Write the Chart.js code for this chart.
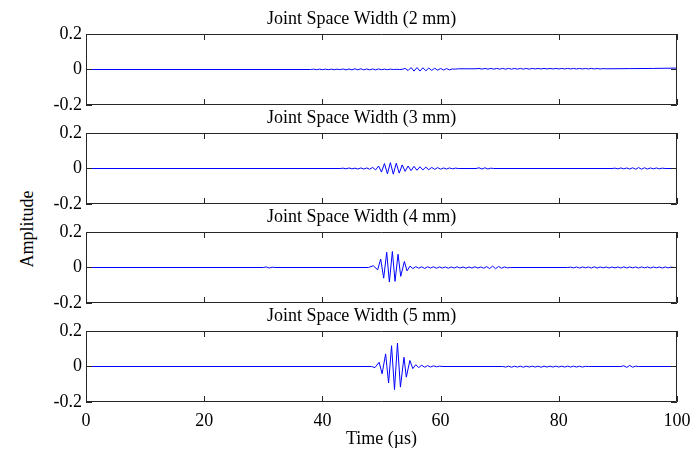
<!DOCTYPE html>
<html>
<head>
<meta charset="utf-8">
<script src="https://cdn.jsdelivr.net/npm/chart.js@4.4.1/dist/chart.umd.min.js"></script>
<style>
  body { margin: 0; background: #fff; }
  #wrap { position: relative; width: 692px; height: 457px; overflow: hidden; }
  #wrap canvas { position: absolute; left: 0; }
  #ylab {
    position: absolute; left: 27px; top: 229px;
    transform: translate(-50%, -50%) rotate(-90deg);
    font: 18px "Liberation Serif", "Times New Roman", serif; color: #000; white-space: nowrap;
  }
</style>
</head>
<body>
<div id="wrap">
  <div id="ylab">Amplitude</div>
</div>
<script>
const FONT = '"Liberation Serif", "Times New Roman", serif';

const xTicks = [0, 20, 40, 60, 80, 100];
const yTicks = [-0.2, 0, 0.2];
const titles = ['Joint Space Width (2 mm)', 'Joint Space Width (3 mm)', 'Joint Space Width (4 mm)', 'Joint Space Width (5 mm)'];

// [time (us), amplitude]
const wave2mm = [
  [0, 0], [38, 0], [38.5, 0.002], [39, -0.001], [39.5, 0.002], [40, -0.001], [40.5, 0.002], [41, -0.001],
  [41.5, 0.002], [42, -0.001], [42.5, 0.002], [43, -0.001], [43.5, 0.003], [44, -0.002], [44.5, 0.003],
  [45, -0.002], [45.5, 0.004], [46, -0.002], [46.5, 0.004], [47, -0.002], [47.5, 0.003], [48, -0.002],
  [48.5, 0.003], [49, -0.002], [49.5, 0.003], [50, -0.001], [50.5, 0.002], [51, -0.001], [51.5, 0.002],
  [52, 0], [52.5, 0.001], [53, 0], [53.5, 0.001],
  [54, 0.006], [54.5, -0.006], [55, 0.011], [55.5, -0.009], [56, 0.011], [56.5, -0.009], [57, 0.010],
  [57.5, -0.007], [58, 0.008], [58.5, -0.005], [59, 0.007], [59.5, -0.004], [60, 0.006], [60.5, -0.003],
  [61, 0.005], [61.5, -0.002], [62, 0.003], [62.5, 0.002], [63, 0.004], [66, 0.004],
  [66.5, 0.006], [67, 0.002], [67.5, 0.006], [68, 0.002], [68.5, 0.006], [69, 0.002], [69.5, 0.006],
  [70, 0.002], [70.5, 0.006], [71, 0.002], [71.5, 0.006], [72, 0.002], [72.5, 0.006], [73, 0.002],
  [73.5, 0.006], [74, 0.002], [74.5, 0.006], [75, 0.002], [75.5, 0.006], [76, 0.003], [76.5, 0.006],
  [77, 0.003], [77.5, 0.006], [78, 0.003], [78.5, 0.006], [79, 0.003], [79.5, 0.006], [80, 0.003],
  [80.5, 0.006], [81, 0.003], [81.5, 0.006], [82, 0.003], [82.5, 0.006], [83, 0.003], [83.5, 0.006],
  [84, 0.003], [84.5, 0.006], [85, 0.003], [85.5, 0.006], [86, 0.003], [86.5, 0.006], [87, 0.003],
  [87.5, 0.005], [88, 0.004], [92, 0.005], [96, 0.006], [100, 0.008]
];

const wave3mm = [
  [0, 0], [43, 0], [43.5, 0.002], [44, -0.002], [44.5, 0.003], [45, -0.002], [45.5, 0.002], [46, -0.003],
  [46.5, 0.003], [47, -0.003], [47.5, 0.003], [48, -0.004], [48.5, 0.006], [49, -0.008], [49.5, 0.014],
  [50, -0.020], [50.5, 0.028], [51, -0.030], [51.5, 0.033], [52, -0.032], [52.5, 0.030], [53, -0.026],
  [53.5, 0.020], [54, -0.016], [54.5, 0.014], [55, -0.012], [55.5, 0.012], [56, -0.010], [56.5, 0.010],
  [57, -0.008], [57.5, 0.008], [58, -0.007], [58.5, 0.006], [59, -0.005], [59.5, 0.005], [60, -0.004],
  [60.5, 0.003], [61, -0.003], [61.5, 0.003], [62, -0.002], [62.5, 0.002], [63, 0],
  [66, 0], [66.5, 0.004], [67, -0.003], [67.5, 0.004], [68, -0.003], [68.5, 0.002], [69, 0],
  [89, 0], [89.5, 0.002], [90, -0.002], [90.5, 0.003], [91, -0.002], [91.5, 0.003], [92, -0.003],
  [92.5, 0.004], [93, -0.004], [93.5, 0.005], [94, -0.004], [94.5, 0.004], [95, -0.003], [95.5, 0.003],
  [96, -0.002], [96.5, 0.003], [97, -0.002], [97.5, 0.002], [98, 0], [100, 0]
];

const wave4mm = [
  [0, 0], [30, 0], [30.5, 0.003], [31, -0.003], [31.5, 0.002], [32, 0], [47.8, 0],
  [48.6, 0.010], [49.35, -0.013], [49.86, 0.048], [50.37, -0.060], [50.88, 0.086], [51.33, -0.082],
  [51.84, 0.090], [52.29, -0.078], [52.8, 0.075], [53.25, -0.050], [53.87, 0.034], [54.32, -0.019],
  [54.83, 0.008], [55.3, -0.006], [55.8, 0.005], [56.3, -0.004], [56.8, 0.004], [57.3, -0.005],
  [57.8, 0.004], [58.3, -0.003], [58.8, 0.004], [59.3, -0.004], [59.8, 0.003], [60.3, -0.003],
  [60.8, 0.003], [61.3, -0.004], [61.8, 0.003], [62.3, -0.003], [62.8, 0.004], [63.3, -0.003],
  [63.8, 0.003], [64.3, -0.004], [64.8, 0.003], [65.3, -0.003], [65.8, 0.004], [66.3, -0.003],
  [66.8, 0.003], [67.3, -0.004], [67.8, 0.005], [68.3, -0.006], [68.8, 0.008], [69.3, -0.007],
  [69.8, 0.006], [70.3, -0.004], [70.8, 0.003], [71.3, -0.002], [71.8, 0],
  [81.5, 0], [82, 0.002], [82.5, -0.002], [83, 0.003], [83.5, -0.003], [84, 0.003], [84.5, -0.002],
  [85, 0.003], [85.5, -0.003], [86, 0.004], [86.5, -0.003], [87, 0.003], [87.5, -0.002], [88, 0.003],
  [88.5, -0.003], [89, 0.003], [89.5, -0.002], [90, 0.003], [90.5, -0.003], [91, 0.004], [91.5, -0.003],
  [92, 0.003], [92.5, -0.002], [93, 0.003], [93.5, -0.003], [94, 0.003], [94.5, -0.002], [95, 0.003],
  [95.5, -0.003], [96, 0.003], [96.5, -0.002], [97, 0.003], [97.5, -0.003], [98, 0.003], [98.5, -0.002],
  [99, 0.002], [99.5, 0], [100, 0]
];

const wave5mm = [
  [0, 0], [48.3, 0], [48.9, -0.006], [49.6, 0.024], [50.1, -0.041], [50.7, 0.071], [51.2, -0.093],
  [51.7, 0.117], [52.2, -0.130], [52.7, 0.132], [53.2, -0.116], [53.8, 0.052], [54.2, -0.060],
  [54.8, 0.034], [55.3, -0.012], [55.8, 0.010], [56.3, -0.006], [56.8, 0.007], [57.3, -0.004],
  [57.8, 0.005], [58.3, -0.003], [58.8, 0.004], [59.3, -0.002], [59.8, 0.002], [60.4, 0],
  [70.5, 0], [71, -0.003], [71.5, 0.002], [72, -0.004], [72.5, 0.002], [73, -0.003], [73.5, 0.002],
  [74, -0.004], [74.5, 0.002], [75, -0.003], [75.5, 0.002], [76, -0.003], [76.5, 0.002], [77, -0.004],
  [77.5, 0.002], [78, -0.003], [78.5, 0.002], [79, -0.003], [79.5, 0.002], [80, -0.003], [80.5, 0.002],
  [81, -0.003], [81.5, 0.002], [82, -0.003], [82.5, 0.002], [83, -0.003], [83.5, 0.002], [84, -0.003],
  [84.5, 0.001], [85, 0], [90.5, 0], [91, 0.004], [91.5, -0.005], [92, 0.006], [92.5, -0.004],
  [93, 0.002], [93.5, 0], [100, 0]
];

const waves = [wave2mm, wave3mm, wave4mm, wave5mm];

// matlab style box with inward ticks
const boxTicks = {
  id: 'boxTicks',
  afterDraw(chart) {
    const { ctx, chartArea: a, scales: { x, y } } = chart;
    ctx.save();
    ctx.strokeStyle = '#262626';
    ctx.lineWidth = 1;
    ctx.beginPath();
    xTicks.forEach(v => {
      const px = Math.round(x.getPixelForValue(v)) + 0.5;
      ctx.moveTo(px, a.top); ctx.lineTo(px, a.top + 6);
      ctx.moveTo(px, a.bottom); ctx.lineTo(px, a.bottom - 6);
    });
    yTicks.forEach(v => {
      const py = Math.floor(y.getPixelForValue(v)) + 0.5;
      ctx.moveTo(a.left, py); ctx.lineTo(a.left + 6, py);
      ctx.moveTo(a.right, py); ctx.lineTo(a.right - 6, py);
    });
    ctx.rect(a.left + 0.5, a.top + 0.5, a.width - 1, a.height - 1);
    ctx.stroke();
    ctx.restore();
  }
};

// panel title, sits a little left of the axes centre like the original figure
const panelTitle = {
  id: 'panelTitle',
  afterDraw(chart, args, opts) {
    const { ctx, chartArea: a } = chart;
    ctx.save();
    ctx.font = '18px ' + FONT;
    ctx.fillStyle = '#000';
    ctx.textAlign = 'center';
    ctx.textBaseline = 'alphabetic';
    ctx.fillText(opts.text, (a.left + a.right) / 2 - 20, a.top - 10);
    ctx.restore();
  }
};

const wrap = document.getElementById('wrap');

waves.forEach((wave, i) => {
  const last = i === waves.length - 1;
  const top = 99 * i;
  const canvas = document.createElement('canvas');
  canvas.width = 692;
  canvas.height = last ? 457 - top : 117;
  canvas.style.top = top + 'px';
  wrap.appendChild(canvas);

  new Chart(canvas, {
    type: 'line',
    data: {
      datasets: [{
        data: wave.map(p => ({ x: p[0], y: p[1] })),
        borderColor: '#0000ff',
        borderWidth: 1,
        pointRadius: 0,
        tension: 0,
        fill: false
      }]
    },
    options: {
      responsive: false,
      animation: false,
      devicePixelRatio: 1,
      layout: { padding: { left: 0, right: 15, top: 34, bottom: last ? 7 : 12 } },
      plugins: {
        legend: { display: false },
        tooltip: { enabled: false },
        title: { display: false },
        panelTitle: { text: titles[i] }
      },
      scales: {
        x: {
          type: 'linear', min: 0, max: 100,
          grid: { display: false, drawTicks: false },
          border: { display: false },
          afterBuildTicks: s => { s.ticks = xTicks.map(v => ({ value: v })); },
          ticks: { display: last, color: '#000', font: { family: FONT, size: 18 }, padding: 8, maxRotation: 0, autoSkip: false },
          title: { display: last, text: 'Time (\u00b5s)', color: '#000', font: { family: FONT, size: 18 }, padding: 0 },
          afterFit: s => { s.height = last ? 48 : 0; s.paddingLeft = 0; s.paddingRight = 0; }
        },
        y: {
          min: -0.2, max: 0.2,
          grid: { display: false, drawTicks: false },
          border: { display: false },
          afterBuildTicks: s => { s.ticks = yTicks.map(v => ({ value: v })); },
          ticks: {
            color: '#000', font: { family: FONT, size: 18 }, padding: 4,
            callback: v => v === 0 ? '0' : v.toFixed(1)
          },
          afterFit: s => { s.width = 86; s.paddingTop = 0; s.paddingBottom = 0; }
        }
      }
    },
    plugins: [boxTicks, panelTitle]
  });
});
</script>
</body>
</html>
